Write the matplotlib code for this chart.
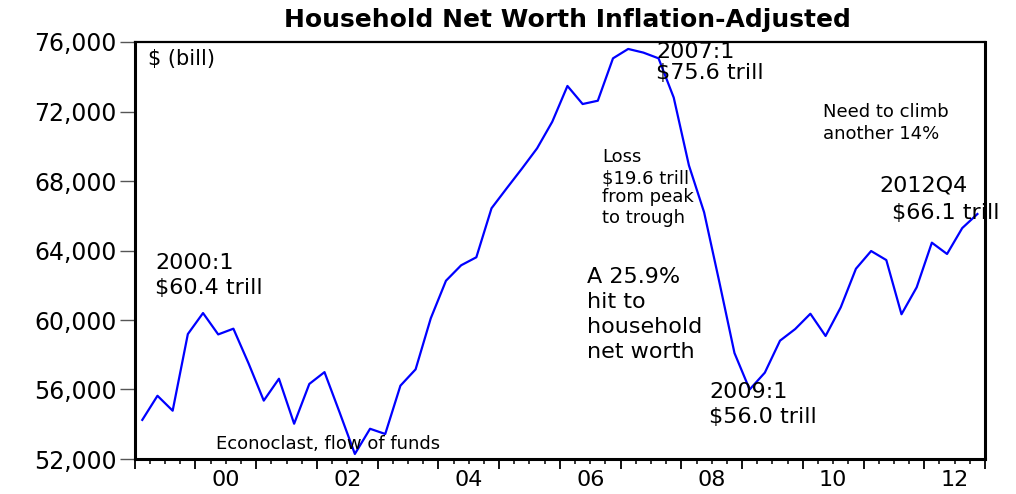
import numpy as np
import pandas as pd
import matplotlib
matplotlib.use('Agg')
import matplotlib.pyplot as plt
from matplotlib.ticker import FixedLocator, FuncFormatter

# real household net worth, $ bill, quarterly
quarters = pd.period_range('1999Q1', '2012Q4', freq='Q')
net_worth = [
    54250, 55640, 54780, 59190,
    60400, 59170, 59500, 57500,
    55360, 56620, 54030, 56320,
    57000, 54670, 52290, 53740,
    53440, 56220, 57160, 60100,
    62260, 63150, 63610, 66430,
    67580, 68710, 69880, 71410,
    73470, 72430, 72620, 75060,
    75600, 75390, 75060, 72800,
    68900, 66200, 62200, 58100,
    56000, 56970, 58810, 59480,
    60360, 59080, 60730, 62950,
    63970, 63450, 60330, 61880,
    64450, 63800, 65290, 66100,
]
y_ticks = [52000, 56000, 60000, 64000, 68000, 72000, 76000]
year_labels = [2000, 2002, 2004, 2006, 2008, 2010, 2012]

s = pd.Series(net_worth, index=quarters)
# each quarter plotted at the middle of its span
x = np.array([p.year + (p.quarter - 0.5) / 4 for p in quarters])

fig = plt.figure(figsize=(10.16, 4.94), dpi=100)
ax = fig.add_axes([134.7 / 1016, 1 - 459 / 494, (985 - 134.7) / 1016, (459 - 42) / 494])

ax.plot(x, s.values, color='#0000ff', lw=1.6)

ax.set_xlim(1999, 2013)
ax.set_ylim(52000, 76000)

ax.set_yticks(y_ticks)
ax.yaxis.set_major_formatter(FuncFormatter(lambda v, p: '{:,.0f}'.format(v)))
ax.tick_params(axis='y', which='major', direction='out', length=11, width=1,
               color='#555555', pad=2, labelsize=17, right=False)

# year ticks long, quarter ticks short, labels centred in the year
ax.xaxis.set_major_locator(FixedLocator(np.arange(1999, 2014)))
ax.xaxis.set_major_formatter(FuncFormatter(lambda v, p: ''))
ax.xaxis.set_minor_locator(FixedLocator(np.arange(1999, 2013.01, 0.25)))

def year_fmt(v, pos):
    yr = int(np.floor(v))
    if abs(v - yr - 0.5) < 1e-6 and yr in year_labels:
        return '{:02d}'.format(yr % 100)
    return ''

ax.xaxis.set_minor_formatter(FuncFormatter(year_fmt))
ax.tick_params(axis='x', which='major', direction='out', length=7, width=1.3, top=False)
ax.tick_params(axis='x', which='minor', direction='out', length=3.5, width=1.1,
               pad=4.5, labelsize=16, top=False)

for lab in ax.get_xticklabels(minor=True) + ax.get_yticklabels():
    lab.set_family('DejaVu Sans')

for side in ['left', 'bottom', 'right']:
    ax.spines[side].set_linewidth(2.2)
ax.spines['top'].set_linewidth(1.6)

fig.text(567 / 1016, 1 - 20 / 494, 'Household Net Worth Inflation-Adjusted',
         ha='center', va='center', fontsize=18, fontweight='bold', family='DejaVu Sans')

big = dict(fontsize=16, family='DejaVu Sans', va='center', ha='left')
small = dict(fontsize=13, family='DejaVu Sans', va='center', ha='left')

def trill(q):
    return '${:.1f} trill'.format(s[pd.Period(q, freq='Q')] / 1000)

ax.text(1999.22, 75020, '$ (bill)', fontsize=15, family='DejaVu Sans', va='center')

ax.text(1999.334, 63280, '2000:1', **big)
ax.text(1999.334, 61841, trill('2000Q1'), **big)

ax.text(2007.582, 75423, '2007:1', **big)
ax.text(2007.582, 74214, trill('2007Q1'), **big)

for yy, line in zip([69380, 68172, 67078, 65870],
                    ['Loss', '$19.6 trill', 'from peak', 'to trough']):
    ax.text(2006.69, yy, line, **small)

for yy, line in zip([62491, 61053, 59614, 58175],
                    ['A 25.9%', 'hit to', 'household', 'net worth']):
    ax.text(2006.44, yy, line, **big)

ax.text(2010.33, 71987, 'Need to climb', **small)
ax.text(2010.33, 70704, 'another 14%', **small)

ax.text(2011.254, 67769, '2012Q4', **big)
ax.text(2011.463, 66175, trill('2012Q4'), **big)

ax.text(2008.46, 55873, '2009:1', **big)
ax.text(2008.46, 54434, trill('2009Q1'), **big)

ax.text(2000.339, 52863, 'Econoclast, flow of funds', **small)

fig.savefig('out.png', dpi=100)
